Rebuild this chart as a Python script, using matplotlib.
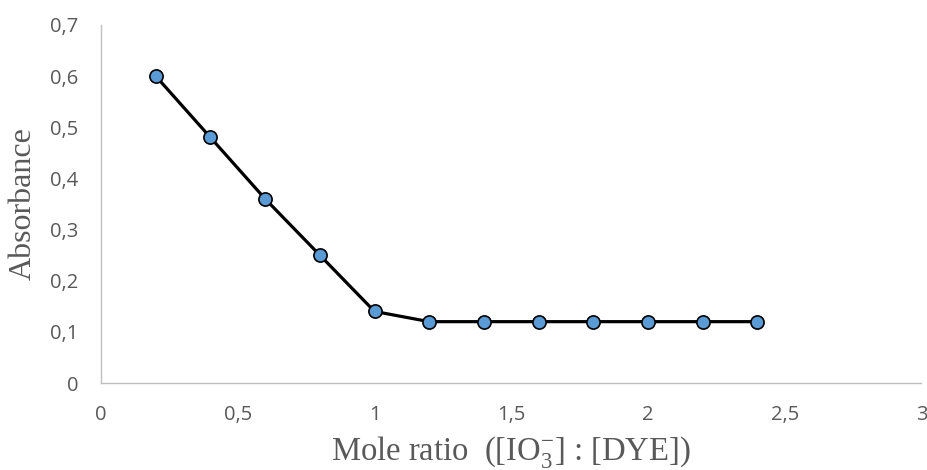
import matplotlib
matplotlib.use("Agg")
import matplotlib.pyplot as plt
from matplotlib.ticker import FuncFormatter

# 摩尔比与吸光度数据
mole_ratio = [0.2, 0.4, 0.6, 0.8, 1.0, 1.2, 1.4, 1.6, 1.8, 2.0, 2.2, 2.4]
absorbance = [0.60, 0.48, 0.36, 0.25, 0.14, 0.12, 0.12, 0.12, 0.12, 0.12, 0.12, 0.12]
x_ticks = [0, 0.5, 1, 1.5, 2, 2.5, 3]
y_ticks = [0, 0.1, 0.2, 0.3, 0.4, 0.5, 0.6, 0.7]

plt.rcParams["mathtext.fontset"] = "custom"
plt.rcParams["mathtext.rm"] = "Liberation Serif"
plt.rcParams["mathtext.it"] = "Liberation Serif"

fig = plt.figure(figsize=(9.27, 4.70), dpi=100)
ax = fig.add_axes([0.109, 0.185, 0.885, 0.762])

ax.plot(mole_ratio, absorbance, color="black", linewidth=2.3, marker="o",
        markersize=9.5, markerfacecolor="#5B9BD5", markeredgecolor="black",
        markeredgewidth=1.2, zorder=3)

ax.set_xlim(0, 3)
ax.set_ylim(0, 0.7)
ax.set_xticks(x_ticks)
ax.set_yticks(y_ticks)

comma = FuncFormatter(lambda v, pos: f"{v:g}".replace(".", ","))
ax.xaxis.set_major_formatter(comma)
ax.yaxis.set_major_formatter(comma)

for side in ["top", "right"]:
    ax.spines[side].set_visible(False)
for side in ["left", "bottom"]:
    ax.spines[side].set_color("#BFBFBF")
    ax.spines[side].set_linewidth(1.0)

ax.tick_params(axis="y", length=0, labelsize=14.5, colors="#595959", pad=16.5)
ax.tick_params(axis="x", length=0, labelsize=14.5, colors="#595959", pad=16)
for lbl in ax.get_xticklabels() + ax.get_yticklabels():
    lbl.set_fontfamily("Open Sans")

xl = ax.set_xlabel("Mole ratio  ([IO$_3^{\\mathrm{-}}$] : [DYE])", fontsize=23.5,
                   family="Liberation Serif", color="#595959")
yl = ax.set_ylabel("Absorbance", fontsize=23, family="Liberation Serif",
                   color="#595959")
xl.set_verticalalignment("center")
yl.set_verticalalignment("center")
ax.xaxis.set_label_coords(0.5, -0.193)
ax.yaxis.set_label_coords(-0.095, 0.5)

plt.savefig("out.png", dpi=100)
plt.close()
